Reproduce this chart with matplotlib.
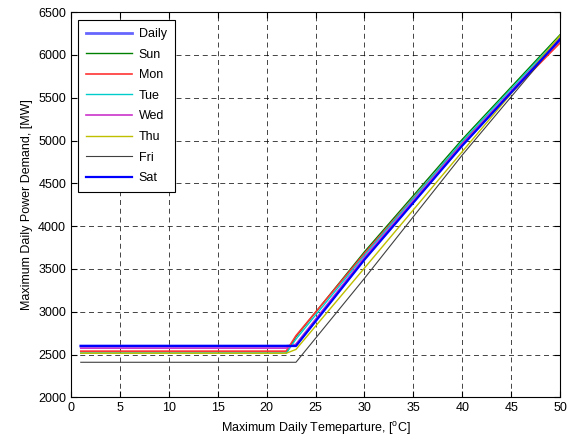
import numpy as np
import matplotlib
matplotlib.use("Agg")
import matplotlib.pyplot as plt

plt.rcParams['font.family'] = ['Liberation Sans', 'DejaVu Sans']
plt.rcParams['mathtext.fontset'] = 'custom'
plt.rcParams['mathtext.rm'] = 'Liberation Sans'

# demand model knots: flat below the threshold temperature, rising above it
temps = [1, 22, 23, 30, 40, 50]
daily = [2600, 2600, 2610, 3620, 4950, 6175]
sun = [2515, 2515, 2710, 3700, 5013, 6235]
mon = [2540, 2540, 2720, 3680, 4980, 6140]
tue = [2515, 2515, 2680, 3660, 4990, 6215]
wed = [2575, 2575, 2620, 3635, 4960, 6195]
thu = [2515, 2515, 2560, 3510, 4870, 6225]
fri = [2410, 2410, 2410, 3390, 4830, 6190]
sat = [2600, 2600, 2600, 3608, 4940, 6180]

labels = ['Daily', 'Sun', 'Mon', 'Tue', 'Wed', 'Thu', 'Fri', 'Sat']
series = [daily, sun, mon, tue, wed, thu, fri, sat]
colors = [(0.4, 0.4, 1.0), (0, 0.5, 0), (1, 0.2, 0.2), (0, 0.8, 0.8),
          (0.8, 0.2, 0.8), (0.75, 0.75, 0), (0.25, 0.25, 0.25), (0, 0, 1)]
widths = [2.0, 1.0, 1.2, 1.0, 1.2, 1.0, 0.8, 1.6]

fig = plt.figure(figsize=(5.68, 4.47), dpi=100)
ax = fig.add_axes([0.125, 0.111, 0.861, 0.862])

for lab, vals, c, lw in zip(labels, series, colors, widths):
    ax.plot(temps, vals, color=c, linewidth=lw, label=lab)

ax.set_xlim(0, 50)
ax.set_ylim(2000, 6500)
ax.set_xticks(np.arange(0, 51, 5))
ax.set_yticks(np.arange(2000, 6501, 500))
ax.grid(True, color='black', linestyle=(0, (6, 4.5)), linewidth=0.6, alpha=0.85)
ax.tick_params(direction='in', top=True, right=True, labelsize=9, length=4)
for s in ax.spines.values():
    s.set_linewidth(0.8)

ax.set_xlabel(r'Maximum Daily Temeparture, [$^{\rm o}$C]', fontsize=9)
ax.set_ylabel('Maximum Daily Power Demand, [MW]', fontsize=9)

leg = ax.legend(loc='upper left', bbox_to_anchor=(0.014, 0.979), borderaxespad=0,
                fontsize=9, handlelength=3.7, labelspacing=0.69, fancybox=False,
                framealpha=1, edgecolor='black', borderpad=0.62, handletextpad=0.56)
leg.get_frame().set_linewidth(0.8)

fig.savefig('out.png', dpi=100)
